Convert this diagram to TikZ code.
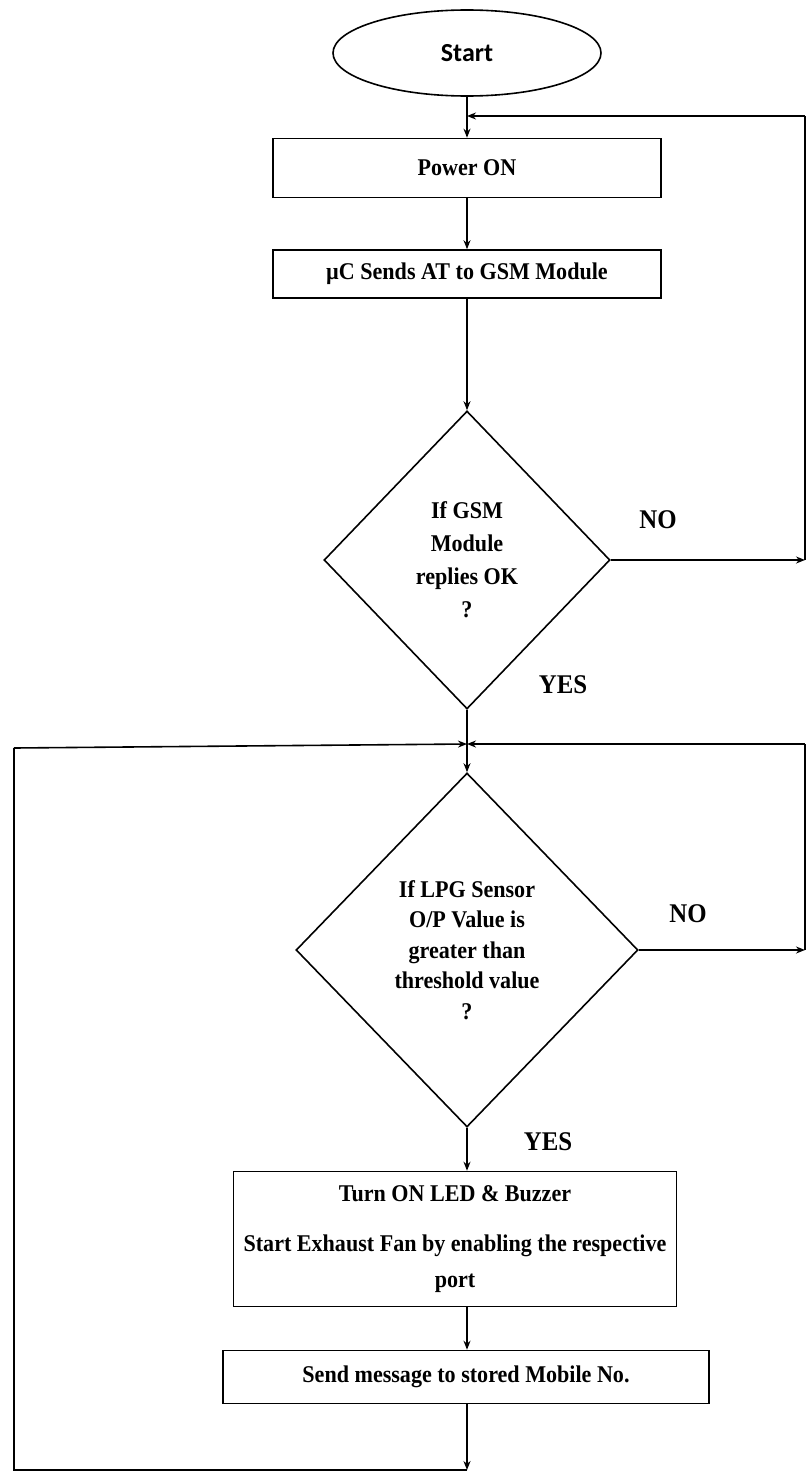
\documentclass[tikz,border=0pt]{standalone}
\usepackage{fontspec}
\setmainfont{Liberation Serif}[FakeStretch=0.92]
\newfontfamily\startfont{Carlito}
\usetikzlibrary{shapes.geometric,arrows.meta}

\begin{document}
\begin{tikzpicture}[x=1pt, y=-1pt, line width=1.6pt,
    >={Stealth[length=9pt,width=7pt]},
    every node/.style={font=\fontsize{24}{30}\selectfont\bfseries, align=center, inner sep=0pt},
    terminal/.style={draw, ellipse, minimum width=268pt, minimum height=86pt,
        font=\startfont\fontsize{26}{30}\selectfont\bfseries},
    process/.style={draw, rectangle},
    decision/.style={draw, diamond},
    answer/.style={font=\fontsize{27}{30}\selectfont\bfseries}]
    \useasboundingbox (0,0) rectangle (807,1472);

    % blocks
    \node[terminal] (start) at (467,53) {Start};
    \node[process, minimum width=388pt, minimum height=59pt] (power) at (467,168) {Power ON};
    \node[process, minimum width=388pt, minimum height=48pt] (gsm) at (467,274) {µC Sends AT to GSM Module};
    \node[decision, minimum width=286pt, minimum height=298pt,
        font=\fontsize{24}{33}\selectfont\bfseries] (okq) at (467,560)
        {If GSM\\Module\\replies OK\\?};
    \node[decision, minimum width=342pt, minimum height=354pt,
        font=\fontsize{24}{30.5}\selectfont\bfseries] (lpgq) at (467,950)
        {If LPG Sensor\\O/P Value is\\greater than\\threshold value\\?};
    \node[process, minimum width=443pt, minimum height=135pt,
        font=\fontsize{24}{36}\selectfont\bfseries] (act) at (455,1239)
        {Turn ON LED \& Buzzer\\[14pt]Start Exhaust Fan by enabling the respective\\port};
    \node[process, minimum width=486pt, minimum height=53pt] (send) at (466,1377) {Send message to stored Mobile No.};

    % labels
    \node[answer] (no1) at (658,520) {NO};
    \node[answer] (yes1) at (563,685) {YES};
    \node[answer] (no2) at (688,914) {NO};
    \node[answer] (yes2) at (548,1142) {YES};

    % loop corners
    \coordinate (rtop) at (805,116);
    \coordinate (rmid) at (805,744);
    \coordinate (lmid) at (14,748);
    \coordinate (lbot) at (14,1470);
    \coordinate (bot) at (467,1470);

    % connectors
    \draw[->] (start) -- (power);
    \draw[->] (power) -- (gsm);
    \draw[->] (gsm) -- (okq);
    \draw[->] (okq.east) -- (okq.east -| rtop);
    \draw (okq.east -| rtop) -- (rtop);
    \draw[->] (rtop) -- (rtop -| start);
    \draw[->] (okq.south) -- (lpgq.north);
    \draw[->] (lpgq.east) -- (lpgq.east -| rmid);
    \draw (lpgq.east -| rmid) -- (rmid);
    \draw[->] (rmid) -- (rmid -| lpgq);
    \draw[->] (lpgq.south) -- (lpgq.south |- act.north);
    \draw[->] (act.south -| lpgq) -- (send.north -| lpgq);
    \draw[->] (send.south -| lpgq) -- (bot);
    \draw (bot) -- (lbot) -- (lmid);
    \draw[->] (lmid) -- (rmid -| lpgq);
\end{tikzpicture}
\end{document}
